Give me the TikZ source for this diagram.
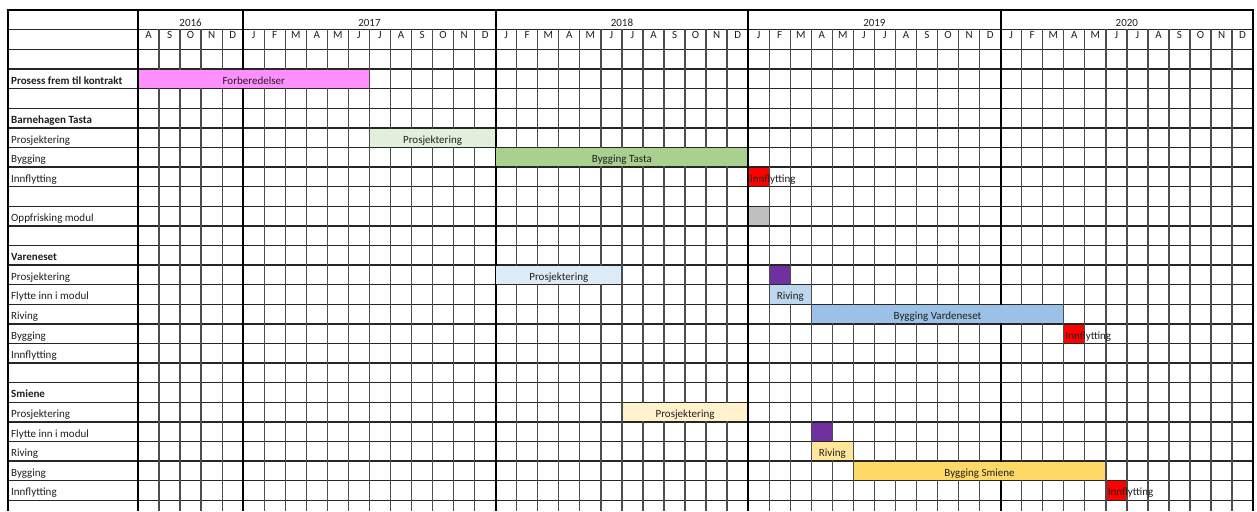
\documentclass[tikz,border=0pt]{standalone}
\usepackage{fontspec}
\setmainfont{Carlito}
\definecolor{pinkbar}{HTML}{FF8FFF}
\definecolor{greenlight}{HTML}{E2EFDA}
\definecolor{greenbar}{HTML}{A9D08E}
\definecolor{redbar}{HTML}{FF0000}
\definecolor{graybar}{HTML}{BFBFBF}
\definecolor{bluelight}{HTML}{DDEBF7}
\definecolor{bluemid}{HTML}{BDD7EE}
\definecolor{bluebar}{HTML}{9BC2E6}
\definecolor{purplebar}{HTML}{7030A0}
\definecolor{yellowlight}{HTML}{FFF2CC}
\definecolor{yellowmid}{HTML}{FFE699}
\definecolor{yellowbar}{HTML}{FFD966}
\newcommand\ganttbar[5]{%
  \pgfmathsetmacro\gxa{138+#2*21.04+0.7}%
  \pgfmathsetmacro\gwd{(#3-#2)*21.04-1.4}%
  \pgfmathsetmacro\gya{49.5+(#4-1)*19.6+0.7}%
  \node[barbox, fill=#5, minimum width=\gwd pt, minimum height=18.2pt] (#1) at (\gxa,\gya) {};%
}
\begin{document}
\begin{tikzpicture}[x=1pt,y=-1pt,
  txt/.style={font=\fontsize{11}{13}\selectfont, text=black!88, inner sep=0pt},
  lbl/.style={txt, anchor=base west},
  hdr/.style={txt, anchor=base},
  barbox/.style={draw=none, inner sep=0pt, outer sep=0pt, anchor=north west},
  hline/.style={line width=1.3pt, draw=black!85},
  vline/.style={line width=1.3pt, draw=black!70},
  yline/.style={line width=2.2pt, draw=black},
]
\useasboundingbox (0,0) rectangle (1257,511);
\fill[white] (0,0) rectangle (1257,511);
% horizontal grid lines
\draw[hline] (8,29.5) -- (1253.1,29.5);
\foreach \k in {0,...,23}{
  \draw[hline] (8,49.5+\k*19.6) -- (1253.1,49.5+\k*19.6);
}
% month lines
\foreach \i in {1,...,52}{
  \draw[vline] (138+\i*21.04,29.5) -- (138+\i*21.04,511);
}
% year lines and borders
\foreach \i in {0,5,17,29,41,53}{
  \draw[yline] (138+\i*21.04,10) -- (138+\i*21.04,511);
}
\draw[yline] (8,10) -- (8,511);
\draw[yline] (6.9,10) -- (1254.2,10);
% years
\node[hdr] (y2016) at (138+2.5*21.04,26.5) {2016};
\node[hdr] (y2017) at (138+11*21.04,26.5) {2017};
\node[hdr] (y2018) at (138+23*21.04,26.5) {2018};
\node[hdr] (y2019) at (138+35*21.04,26.5) {2019};
\node[hdr] (y2020) at (138+47*21.04,26.5) {2020};
% months
\foreach \m [count=\c from 0] in {A,S,O,N,D}{
  \node[hdr] (mon\c) at (138+\c*21.04+10.52,39) {\m};
}
\foreach \yr in {0,...,3}{
  \foreach \m [count=\c from 0] in {J,F,M,A,M,J,J,A,S,O,N,D}{
    \pgfmathtruncatemacro\idx{5+12*\yr+\c}
    \node[hdr] (mon\idx) at (138+\idx*21.04+10.52,39) {\m};
  }
}
% row labels
\foreach \r/\t/\f in {2/Prosess frem til kontrakt/\bfseries, 4/Barnehagen Tasta/\bfseries,
  5/Prosjektering/, 6/Bygging/, 7/Innflytting/, 9/Oppfrisking modul/,
  11/Vareneset/\bfseries, 12/Prosjektering/, 13/Flytte inn i modul/, 14/Riving/,
  15/Bygging/, 16/Innflytting/, 18/Smiene/\bfseries, 19/Prosjektering/,
  20/Flytte inn i modul/, 21/Riving/, 22/Bygging/, 23/Innflytting/}{
  \node[lbl, font=\fontsize{11}{13}\selectfont\f] (lab\r) at (11,49.5+\r*19.6-4.5) {\t};
}
% bars
\ganttbar{forb}{0}{11}{2}{pinkbar}
\ganttbar{tprosj}{11}{17}{5}{greenlight}
\ganttbar{tbygg}{17}{29}{6}{greenbar}
\ganttbar{tinn}{29}{30}{7}{redbar}
\ganttbar{oppf}{29}{30}{9}{graybar}
\ganttbar{vprosj}{17}{23}{12}{bluelight}
\ganttbar{vflytt}{30}{31}{12}{purplebar}
\ganttbar{vriv}{30}{32}{13}{bluemid}
\ganttbar{vbygg}{32}{44}{14}{bluebar}
\ganttbar{vinn}{44}{45}{15}{redbar}
\ganttbar{sprosj}{23}{29}{19}{yellowlight}
\ganttbar{sflytt}{32}{33}{20}{purplebar}
\ganttbar{sriv}{32}{34}{21}{yellowmid}
\ganttbar{sbygg}{34}{46}{22}{yellowbar}
\ganttbar{sinn}{46}{47}{23}{redbar}
% bar texts
\node[hdr] (forb-t) at ([yshift=3.8pt]forb.south) {Forberedelser};
\node[hdr] (tprosj-t) at ([yshift=3.8pt]tprosj.south) {Prosjektering};
\node[hdr] (tbygg-t) at ([yshift=3.8pt]tbygg.south) {Bygging Tasta};
\node[lbl] (tinn-t) at ([xshift=1pt,yshift=3.8pt]tinn.south west) {Innflytting};
\node[hdr] (vprosj-t) at ([yshift=3.8pt]vprosj.south) {Prosjektering};
\node[hdr] (vriv-t) at ([yshift=3.8pt]vriv.south) {Riving};
\node[hdr] (vbygg-t) at ([yshift=3.8pt]vbygg.south) {Bygging Vardeneset};
\node[lbl] (vinn-t) at ([xshift=1pt,yshift=3.8pt]vinn.south west) {Innflytting};
\node[hdr] (sprosj-t) at ([yshift=3.8pt]sprosj.south) {Prosjektering};
\node[hdr] (sriv-t) at ([yshift=3.8pt]sriv.south) {Riving};
\node[hdr] (sbygg-t) at ([yshift=3.8pt]sbygg.south) {Bygging Smiene};
\node[lbl] (sinn-t) at ([xshift=1pt,yshift=3.8pt]sinn.south west) {Innflytting};
\end{tikzpicture}
\end{document}
